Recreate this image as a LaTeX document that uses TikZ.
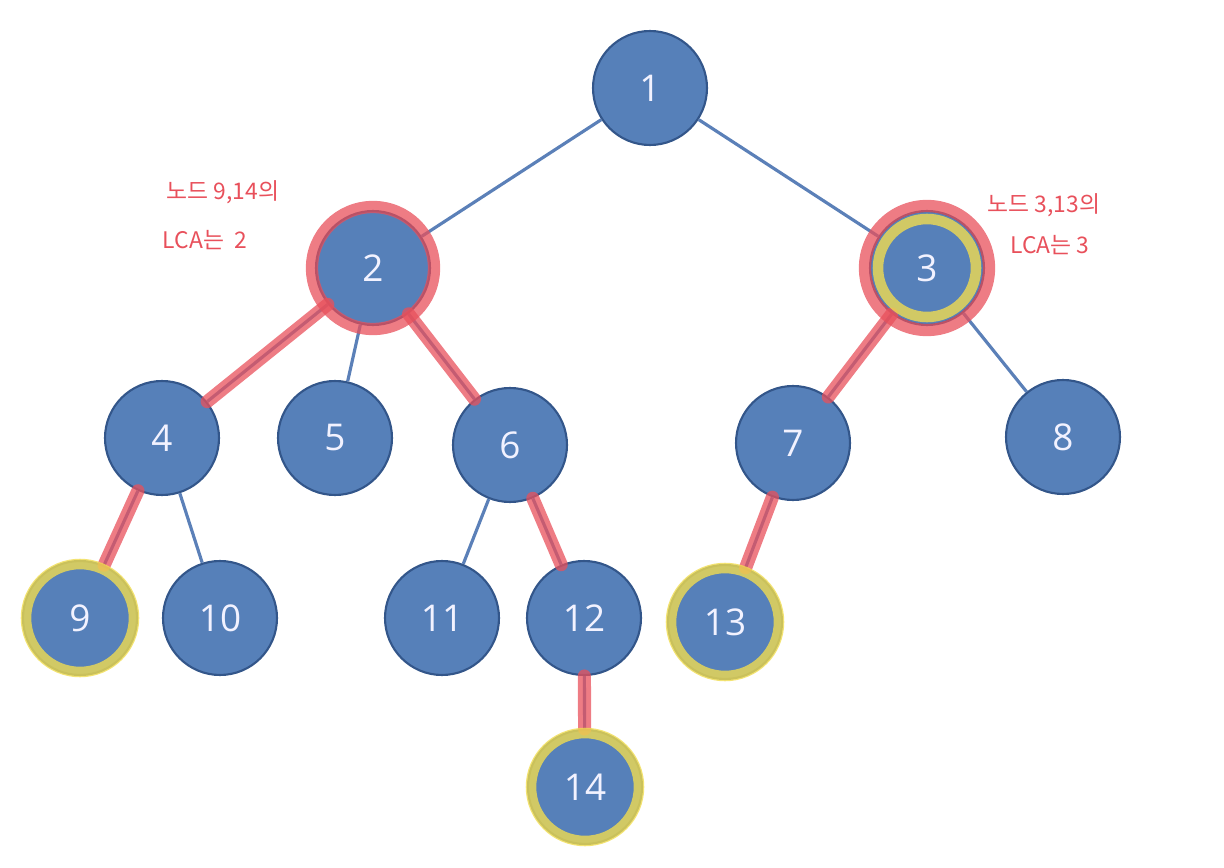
\documentclass[tikz,border=0pt]{standalone}
\usepackage{fontspec}
\setsansfont{Open Sans}
\newfontfamily\hand{Noto Sans CJK KR}
\definecolor{nodeblue}{HTML}{5680B9}
\definecolor{nodeedge}{HTML}{33568A}
\definecolor{edgeblue}{HTML}{5B80B8}
\definecolor{pen}{HTML}{E8505B}
\definecolor{marker}{HTML}{F0DC50}

\begin{document}
\begin{tikzpicture}[x=0.02cm, y=-0.02cm,
    vtx/.style={circle, fill=nodeblue, draw=nodeedge, line width=1.2pt, minimum size=2.28cm, inner sep=0pt, text=white!95!blue, font=\sffamily\fontsize{21}{25}\selectfont},
    tree/.style={edgeblue, line width=1.8pt},
    redpath/.style={pen, opacity=0.75, line width=7.5pt, line cap=round},
    redring/.style={pen, opacity=0.75, line width=7pt},
    yellowring/.style={marker, opacity=0.8, line width=6pt},
    note/.style={pen, font=\hand\fontsize{13}{15}\selectfont}]
      \useasboundingbox (0, 0) rectangle (1224, 868);
      \node[vtx] (n1) at (650, 88) {1};
      \node[vtx] (n2) at (373, 268) {2};
      \node[vtx] (n3) at (927, 268) {3};
      \node[vtx] (n4) at (162, 438) {4};
      \node[vtx] (n5) at (335, 438) {5};
      \node[vtx] (n6) at (510, 445) {6};
      \node[vtx] (n7) at (793, 443) {7};
      \node[vtx] (n8) at (1063, 437) {8};
      \node[vtx] (n9) at (80, 618) {9};
      \node[vtx] (n10) at (220, 618) {10};
      \node[vtx] (n11) at (442, 618) {11};
      \node[vtx] (n12) at (584, 618) {12};
      \node[vtx] (n13) at (725, 622) {13};
      \node[vtx] (n14) at (585, 787) {14};

      \draw[tree] (n1) -- (n2);
      \draw[tree] (n1) -- (n3);
      \draw[tree] (n2) -- (n4);
      \draw[tree] (n2) -- (n5);
      \draw[tree] (n2) -- (n6);
      \draw[tree] (n3) -- (n7);
      \draw[tree] (n3) -- (n8);
      \draw[tree] (n4) -- (n9);
      \draw[tree] (n4) -- (n10);
      \draw[tree] (n6) -- (n11);
      \draw[tree] (n6) -- (n12);
      \draw[tree] (n7) -- (n13);
      \draw[tree] (n12) -- (n14);

      % paths up to the LCA
      \draw[redpath] (n4) -- (n2);
      \draw[redpath] (n6) -- (n2);
      \draw[redpath] (n9) -- (n4);
      \draw[redpath] (n12) -- (n6);
      \draw[redpath] (n14) -- (n12);
      \draw[redpath] (n7) -- (n3);
      \draw[redpath] (n13) -- (n7);

      \draw[yellowring] (n9) circle (54);
      \draw[yellowring] (n13) circle (54);
      \draw[yellowring] (n14) circle (54);
      \draw[yellowring] (n3) circle (49);
      \draw[redring] (n2) circle (61);
      \draw[redring] (n3) circle (62);

      \node[note] (t1) at (223, 192) {노드 9,14의};
      \node[note] (t2) at (205, 240) {LCA는 \ 2};
      \node[note] (t3) at (1044, 205) {노드 3,13의};
      \node[note] (t4) at (1050, 245) {LCA는 3};
\end{tikzpicture}
\end{document}
